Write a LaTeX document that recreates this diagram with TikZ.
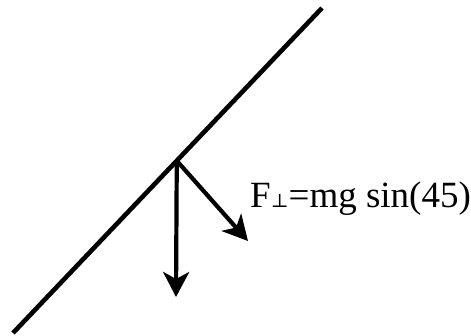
\documentclass[tikz,border=0pt]{standalone}
\usepackage{fontspec}
\setmainfont{Liberation Serif}
\newfontfamily\perpfont{DejaVu Serif}
\usepackage{tikz}
\usetikzlibrary{arrows.meta,calc}

\begin{document}
\begin{tikzpicture}[x=1pt, y=-1pt,
  slope/.style={line width=4.6pt},
  force/.style={-{Stealth[length=25pt, width=26pt, inset=7pt]}, line width=4.2pt},
  lbl/.style={anchor=base west, inner sep=0pt, font=\fontsize{37}{40}\selectfont}]
\useasboundingbox (0,0) rectangle (471,335);
\coordinate (low) at (13,333);
\coordinate (high) at (322,8);
\coordinate (contact) at ($(low)!0.53!(high)$);
\coordinate (weight) at (176,297);
\coordinate (normal) at (248,241);
\draw[slope] (low) -- (high);
\draw[force] (contact) -- (weight);
\draw[force] (contact) -- (normal);
\node[lbl] (flabel) at (250,207) {F{\perpfont\fontsize{19}{20}\selectfont ⊥}=mg sin(45)};
\end{tikzpicture}
\end{document}
